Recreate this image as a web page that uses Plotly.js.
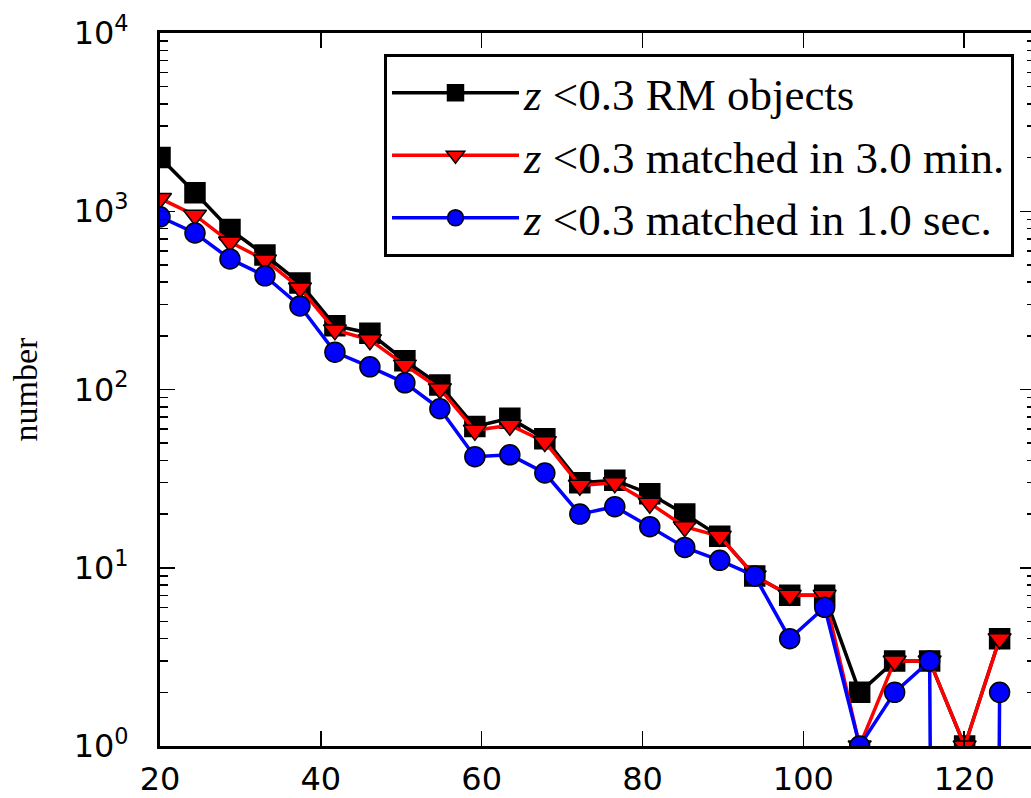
<!DOCTYPE html>
<html>
<head>
<meta charset="utf-8">
<script src="https://cdn.plot.ly/plotly-3.0.1.min.js"></script>
<style>
  html, body { margin: 0; padding: 0; overflow: hidden; background: #fff; }
  #chart { width: 1040px; height: 798px; }
</style>
</head>
<body>
<div id="chart"></div>
<script>
// Bin centres (richness bins)
const binCentres = [20, 24.35, 28.7, 33.05, 37.4, 41.75, 46.1, 50.45, 54.8, 59.15,
                    63.5, 67.85, 72.2, 76.55, 80.9, 85.25, 89.6, 93.95, 98.3, 102.65,
                    107, 111.35, 115.7, 120.05, 124.4];

// Counts per bin
const rmObjects   = [2000, 1270, 790, 568, 396, 228, 207, 145, 106, 62,
                     69, 53, 30, 31, 26, 20, 15, 9, 7, 7,
                     2, 3, 3, 1, 4];
const matched3min = [1180, 950, 672, 533, 371, 216, 190, 137, 101, 59,
                     63, 51, 29, 30, 23, 17, 15, 9, 7, 7,
                     1, 3, 3, 1, 4];
const matched1sec = [930, 755, 540, 434, 294, 162, 134, 109, 78, 42,
                     43, 34, 20, 22, 17, 13, 11, 9, 4, 6,
                     1, 2, 3, 0, 2];

const seriesNames = ['<i>z</i> &lt;0.3 RM objects',
                     '<i>z</i> &lt;0.3 matched in 3.0 min.',
                     '<i>z</i> &lt;0.3 matched in 1.0 sec.'];

const yTickVals = [1, 10, 100, 1000, 10000];
const yTickText = ['10<sup>0</sup>', '10<sup>1</sup>', '10<sup>2</sup>', '10<sup>3</sup>', '10<sup>4</sup>'];
const xTickVals = [20, 40, 60, 80, 100, 120];

// log-axis minor tick positions (2..9 x 10^k)
const yMinorVals = [];
for (let k = 0; k < 4; k++) {
  for (let m = 2; m <= 9; m++) yMinorVals.push(m * Math.pow(10, k));
}

// like matplotlib's log "clip": non-positive counts go far below the axis
function clipNonPositive(arr) {
  return arr.map(v => (v > 0 ? v : 1e-30));
}

function mk(name, y, color, symbol, group) {
  return {
    type: 'scatter', mode: 'lines+markers', name: name,
    x: binCentres, y: clipNonPositive(y),
    legendgroup: group,
    line: { color: color, width: 3.5 },
    marker: { symbol: symbol, size: 20, color: color, line: { color: '#000', width: 1.5 } },
    cliponaxis: true
  };
}

const traces = [
  mk(seriesNames[0], rmObjects, '#000000', 'square', 'a'),
  mk(seriesNames[1], matched3min, '#ff0000', 'triangle-down', 'b'),
  mk(seriesNames[2], matched1sec, '#0000ff', 'circle', 'c')
];

const axisCommon = {
  showline: true, linecolor: '#000', linewidth: 3, mirror: 'ticks',
  ticks: 'inside', ticklen: 15, tickwidth: 1.5, tickcolor: '#000',
  showgrid: false, zeroline: false
};

const layout = {
  width: 1040, height: 798,
  margin: { l: 160, r: 5, t: 33, b: 52 },
  paper_bgcolor: '#fff', plot_bgcolor: '#fff',
  showlegend: true,
  xaxis: Object.assign({}, axisCommon, {
    range: [20, 128.8],
    tickvals: xTickVals,
    tickfont: { family: 'DejaVu Sans', size: 32, color: '#000' },
    ticklabelstandoff: 3
  }),
  yaxis: Object.assign({}, axisCommon, {
    type: 'log', range: [0, 4],
    tickvals: yTickVals, ticktext: yTickText,
    tickfont: { family: 'DejaVu Sans', size: 32, color: '#000' },
    ticklabelstandoff: 22,
    minor: { tickvals: yMinorVals, ticks: 'inside', ticklen: 8, tickwidth: 1.5, tickcolor: '#000', showgrid: false },
    title: { text: 'number', font: { family: 'Liberation Serif', size: 34, color: '#000' }, standoff: 26 }
  }),
  legend: {
    x: 0.976, xanchor: 'right', y: 0.9705, yanchor: 'top',
    bgcolor: '#fff', bordercolor: '#000', borderwidth: 3,
    font: { family: 'Liberation Serif', size: 45, color: '#000' },
    traceorder: 'grouped', tracegroupgap: 1,
    itemwidth: 127
  }
};

Plotly.newPlot('chart', traces, layout, { displayModeBar: false, staticPlot: true });
</script>
</body>
</html>
